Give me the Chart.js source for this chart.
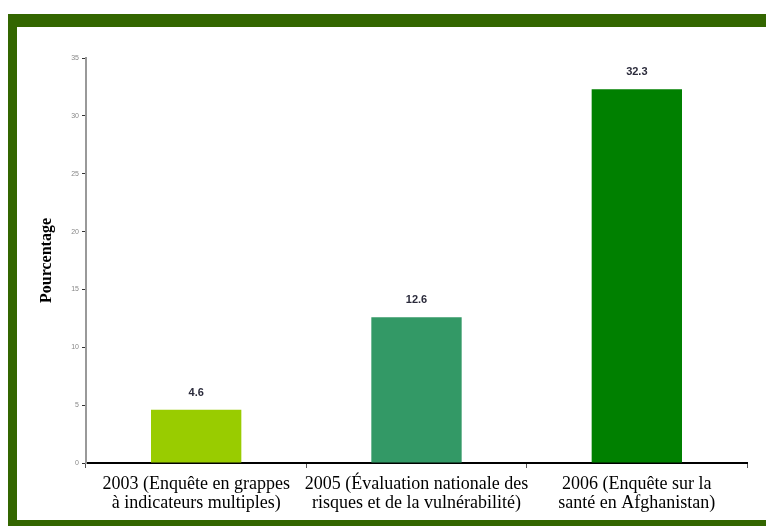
<!DOCTYPE html>
<html>
<head>
<meta charset="utf-8">
<script src="https://cdn.jsdelivr.net/npm/chart.js@4"></script>
<style>
  html, body { margin: 0; padding: 0; background: #fff; }
  #wrap { position: relative; width: 766px; height: 526px; overflow: hidden; }
  #chart { position: absolute; left: 0; top: 0; }
  .band { position: absolute; background: #336600; }
</style>
</head>
<body>
<div id="wrap">
  <div class="band" style="left:8px; top:14px; right:0; height:13px;"></div>
  <div class="band" style="left:8px; top:14px; width:9px; bottom:0;"></div>
  <div class="band" style="left:8px; top:520px; right:0; height:6px;"></div>
  <canvas id="chart" width="766" height="526"></canvas>
</div>
<script>
// ── Data ─────────────────────────────────────────────────
const categories = [
  ["2003 (Enquête en grappes", "à indicateurs multiples)"],
  ["2005 (Évaluation nationale des", "risques et de la vulnérabilité)"],
  ["2006 (Enquête sur la", "santé en Afghanistan)"],
];
const values = [4.6, 12.6, 32.3];
const barColors = ["#99cc00", "#339966", "#008000"];
const yTicks = [0, 5, 10, 15, 20, 25, 30, 35];

// ── Value labels above bars ──────────────────────────────
const valueLabels = {
  id: "valueLabels",
  afterDatasetsDraw(chart) {
    const ctx = chart.ctx;
    const meta = chart.getDatasetMeta(0);
    ctx.save();
    ctx.font = "bold 11px 'Liberation Sans', Arial, sans-serif";
    ctx.fillStyle = "#2b2b3b";
    ctx.textAlign = "center";
    ctx.textBaseline = "middle";
    meta.data.forEach((bar, i) => {
      ctx.fillText(values[i].toFixed(1), bar.x, bar.y - 17);
    });
    ctx.restore();
  },
};

const ctx = document.getElementById("chart").getContext("2d");
new Chart(ctx, {
  type: "bar",
  data: {
    labels: categories,
    datasets: [{
      data: values,
      backgroundColor: barColors,
      borderWidth: 0,
      barPercentage: 0.41,
      categoryPercentage: 1,
    }],
  },
  plugins: [valueLabels],
  options: {
    responsive: false,
    animation: false,
    layout: { padding: { left: 0, right: 19, top: 58, bottom: 0 } },
    plugins: { legend: { display: false }, tooltip: { enabled: false } },
    scales: {
      x: {
        grid: {
          display: true,
          drawOnChartArea: false,
          tickLength: 5,
          color: "#555",
          offset: true,
        },
        border: { color: "#000", width: 2 },
        ticks: {
          color: "#000",
          font: { family: "'Liberation Serif', 'Times New Roman', serif", size: 18, lineHeight: 1.05 },
          maxRotation: 0,
          autoSkip: false,
          padding: 7,
        },
        afterFit: (s) => { s.height = 63; },
      },
      y: {
        min: 0,
        max: 35,
        afterBuildTicks: (s) => { s.ticks = yTicks.map((v) => ({ value: v })); },
        grid: {
          display: true,
          drawOnChartArea: false,
          tickLength: 4,
          color: "#333",
        },
        border: { color: "#999", width: 2 },
        ticks: {
          color: "#888",
          font: { family: "'Liberation Sans', Arial, sans-serif", size: 7 },
          padding: 3,
        },
        title: {
          display: true,
          text: "Pourcentage",
          color: "#000",
          font: { family: "'Liberation Serif', 'Times New Roman', serif", size: 16, weight: "bold" },
          padding: { top: 37, bottom: 0 },
        },
        afterFit: (s) => { s.width = 86; },
      },
    },
  },
});
</script>
</body>
</html>
